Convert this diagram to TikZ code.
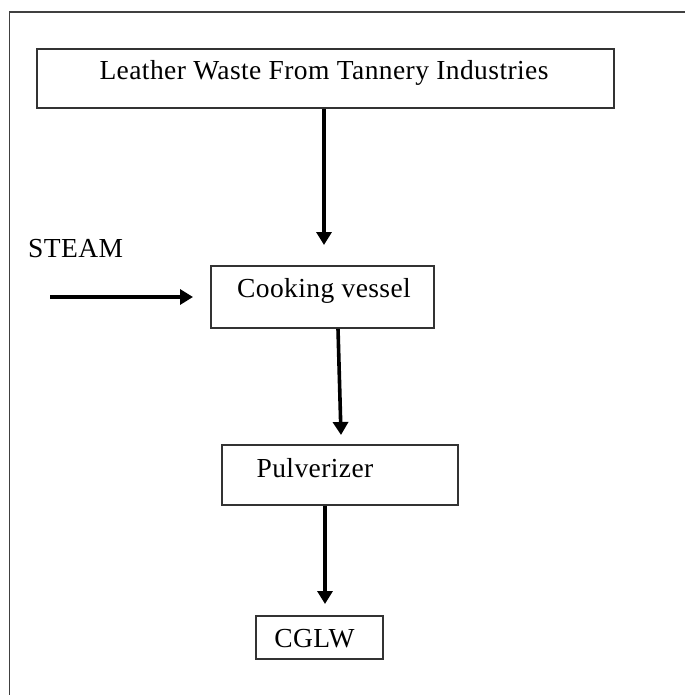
\documentclass[tikz,border=0pt]{standalone}
\usepackage{fontspec}
\setmainfont{Liberation Serif}[LetterSpace=1.5]
\usetikzlibrary{arrows.meta}
\begin{document}
\begin{tikzpicture}[x=1pt,y=-1pt,
  box/.style={draw=black!80, line width=1.6pt, rectangle, inner sep=0pt},
  lbl/.style={anchor=base, inner sep=0pt, font=\fontsize{27.5}{30}\selectfont},
  arr/.style={line width=3.6pt, -{Triangle[width=15pt,length=13pt]}}]
\useasboundingbox (0,0) rectangle (685,695);
% outer frame (partially cropped)
\draw[black!75, line width=1.8pt] (9.5,695) -- (9.5,12) -- (685,12);
% boxes
\node[box, minimum width=577pt, minimum height=59pt] (B1) at (325.5,78.5) {};
\node[box, minimum width=223pt, minimum height=62pt] (B2) at (322.5,297) {};
\node[box, minimum width=236pt, minimum height=60pt] (B3) at (340,475) {};
\node[box, minimum width=127pt, minimum height=43pt] (B4) at (319.5,637.5) {};
% texts
\node[lbl] (T1) at (324,80) {Leather Waste From Tannery Industries};
\node[lbl] (T2) at (324,297) {Cooking vessel};
\node[lbl] (T3) at (315,477) {Pulverizer};
\node[lbl] (T4) at (314.5,647) {CGLW};
\node[lbl, anchor=base west] (TS) at (28,257) {STEAM};
% arrow ends
\coordinate (tip1) at (324,245);
\coordinate (s2) at (338,0);
\coordinate (tip2) at (341,435);
\coordinate (tip3) at (325,604);
\coordinate (steamstart) at (50,297);
\coordinate (steamtip) at (193,297);
% connectors
\draw[arr] (B1.south -| tip1) -- (tip1);
\draw[arr] (steamstart) -- (steamtip);
\draw[arr] (B2.south -| s2) -- (tip2);
\draw[arr] (B3.south -| tip3) -- (tip3);
\end{tikzpicture}
\end{document}
